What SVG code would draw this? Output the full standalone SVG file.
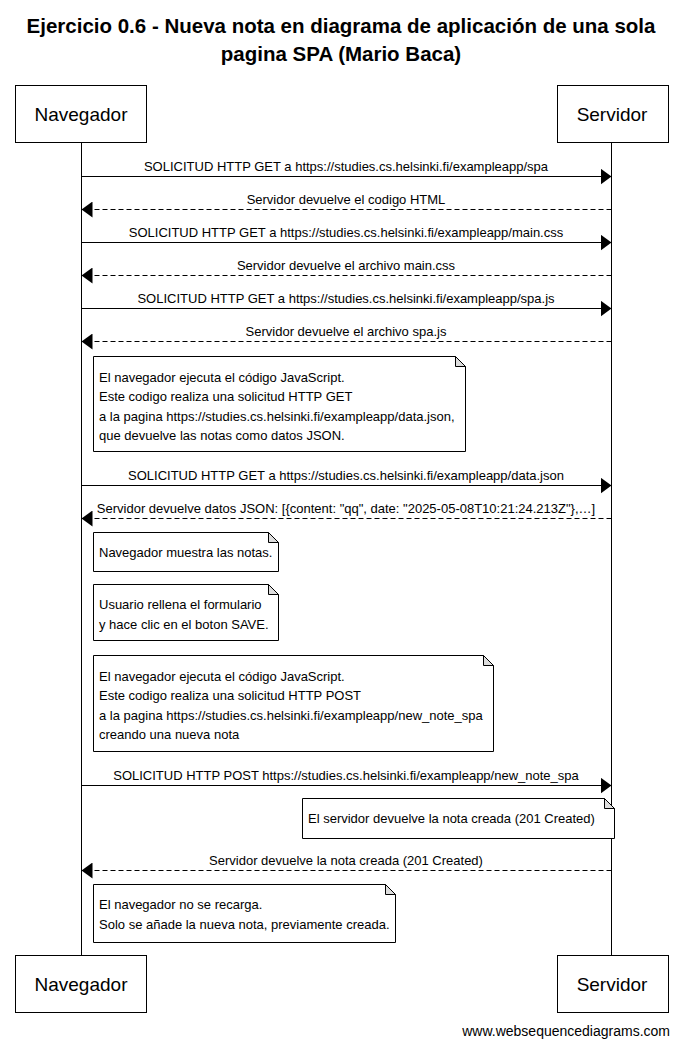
<svg xmlns="http://www.w3.org/2000/svg" width="680" height="1047" viewBox="0 0 680 1047">
<style>
text{font-family:"Liberation Sans",Arial,sans-serif;fill:#000}
.title{font-size:20.5px;font-weight:bold;text-anchor:middle}
.actor rect{fill:#fff;stroke:#000;stroke-width:1}
.actor text{font-size:19px;text-anchor:middle}
.life{stroke:#000;stroke-width:1}
.msg{stroke:#000;stroke-width:1;fill:none}
.dash{stroke-dasharray:5,3}
.lbl{font-size:13px;text-anchor:middle}
.note path.b{fill:#fff;stroke:#000;stroke-width:1}
.note path.f{fill:#ddd;stroke:#000;stroke-width:1}
.note text{font-size:13px}
.foot{font-size:14px;text-anchor:end}
</style>
<defs>
<marker id="ar" markerWidth="12" markerHeight="16" refX="11" refY="8" orient="auto" markerUnits="userSpaceOnUse">
<path d="M0,0 L11,8 L0,16 Z" fill="#000"/>
</marker>
</defs>
<rect width="680" height="1047" fill="#fff"/>
<text class="title" x="341" y="33">Ejercicio 0.6 - Nueva nota en diagrama de aplicación de una sola</text>
<text class="title" x="341" y="61">pagina SPA (Mario Baca)</text>

<g id="lifelines">
<line class="life" x1="81.5" y1="142.5" x2="81.5" y2="955.5"/>
<line class="life" x1="611.5" y1="142.5" x2="611.5" y2="955.5"/>
</g>

<g id="navegador-top" class="actor"><rect x="15.5" y="85.5" width="131" height="57"/><text x="81" y="121">Navegador</text></g>
<g id="servidor-top" class="actor"><rect x="557.5" y="85.5" width="111" height="57"/><text x="612" y="121">Servidor</text></g>
<g id="navegador-bottom" class="actor"><rect x="15.5" y="955.5" width="131" height="57"/><text x="81" y="991">Navegador</text></g>
<g id="servidor-bottom" class="actor"><rect x="557.5" y="955.5" width="111" height="57"/><text x="612" y="991">Servidor</text></g>

<g id="connectors">
<line class="msg" x1="81.5" y1="176.5" x2="611.5" y2="176.5" marker-end="url(#ar)"/>
<text class="lbl" x="346" y="171">SOLICITUD HTTP GET a https://studies.cs.helsinki.fi/exampleapp/spa</text>
<line class="msg dash" x1="611.5" y1="209.5" x2="81.5" y2="209.5" marker-end="url(#ar)"/>
<text class="lbl" x="346" y="204">Servidor devuelve el codigo HTML</text>
<line class="msg" x1="81.5" y1="242.5" x2="611.5" y2="242.5" marker-end="url(#ar)"/>
<text class="lbl" x="346" y="237">SOLICITUD HTTP GET a https://studies.cs.helsinki.fi/exampleapp/main.css</text>
<line class="msg dash" x1="611.5" y1="275.5" x2="81.5" y2="275.5" marker-end="url(#ar)"/>
<text class="lbl" x="346" y="270">Servidor devuelve el archivo main.css</text>
<line class="msg" x1="81.5" y1="308.5" x2="611.5" y2="308.5" marker-end="url(#ar)"/>
<text class="lbl" x="346" y="303">SOLICITUD HTTP GET a https://studies.cs.helsinki.fi/exampleapp/spa.js</text>
<line class="msg dash" x1="611.5" y1="341.5" x2="81.5" y2="341.5" marker-end="url(#ar)"/>
<text class="lbl" x="346" y="336">Servidor devuelve el archivo spa.js</text>
<line class="msg" x1="81.5" y1="485.5" x2="611.5" y2="485.5" marker-end="url(#ar)"/>
<text class="lbl" x="346" y="480">SOLICITUD HTTP GET a https://studies.cs.helsinki.fi/exampleapp/data.json</text>
<line class="msg dash" x1="611.5" y1="518.5" x2="81.5" y2="518.5" marker-end="url(#ar)"/>
<text class="lbl" x="346" y="513">Servidor devuelve datos JSON: [{content: "qq", date: "2025-05-08T10:21:24.213Z"},…]</text>
<line class="msg" x1="81.5" y1="785.5" x2="611.5" y2="785.5" marker-end="url(#ar)"/>
<text class="lbl" x="346" y="780">SOLICITUD HTTP POST https://studies.cs.helsinki.fi/exampleapp/new_note_spa</text>
<line class="msg dash" x1="611.5" y1="870.5" x2="81.5" y2="870.5" marker-end="url(#ar)"/>
<text class="lbl" x="346" y="865">Servidor devuelve la nota creada (201 Created)</text>
</g>

<g id="note1" class="note">
<path class="b" d="M93.5,356.5 H455.5 L465.5,366.5 V451.5 H93.5 Z"/>
<path class="f" d="M455.5,356.5 V366.5 H465.5 Z"/>
<text x="99" y="382">El navegador ejecuta el código JavaScript.</text>
<text x="99" y="401">Este codigo realiza una solicitud HTTP GET</text>
<text x="99" y="421">a la pagina https://studies.cs.helsinki.fi/exampleapp/data.json,</text>
<text x="99" y="440">que devuelve las notas como datos JSON.</text>
</g>

<g id="note2" class="note">
<path class="b" d="M93.5,532.5 H268.5 L278.5,542.5 V571.5 H93.5 Z"/>
<path class="f" d="M268.5,532.5 V542.5 H278.5 Z"/>
<text x="99" y="557">Navegador muestra las notas.</text>
</g>

<g id="note3" class="note">
<path class="b" d="M93.5,584.5 H268.5 L278.5,594.5 V640.5 H93.5 Z"/>
<path class="f" d="M268.5,584.5 V594.5 H278.5 Z"/>
<text x="99" y="609">Usuario rellena el formulario</text>
<text x="99" y="629">y hace clic en el boton SAVE.</text>
</g>

<g id="note4" class="note">
<path class="b" d="M93.5,655.5 H483.5 L493.5,665.5 V751.5 H93.5 Z"/>
<path class="f" d="M483.5,655.5 V665.5 H493.5 Z"/>
<text x="99" y="681">El navegador ejecuta el código JavaScript.</text>
<text x="99" y="700">Este codigo realiza una solicitud HTTP POST</text>
<text x="99" y="720">a la pagina https://studies.cs.helsinki.fi/exampleapp/new_note_spa</text>
<text x="99" y="739">creando una nueva nota</text>
</g>

<g id="note5" class="note">
<path class="b" d="M302.5,798.5 H604.5 L614.5,808.5 V838.5 H302.5 Z"/>
<path class="f" d="M604.5,798.5 V808.5 H614.5 Z"/>
<text x="308" y="823">El servidor devuelve la nota creada (201 Created)</text>
</g>

<g id="note6" class="note">
<path class="b" d="M93.5,884.5 H385.5 L395.5,894.5 V942.5 H93.5 Z"/>
<path class="f" d="M385.5,884.5 V894.5 H395.5 Z"/>
<text x="99" y="909">El navegador no se recarga.</text>
<text x="99" y="929">Solo se añade la nueva nota, previamente creada.</text>
</g>

<text class="foot" x="670" y="1036">www.websequencediagrams.com</text>
</svg>
